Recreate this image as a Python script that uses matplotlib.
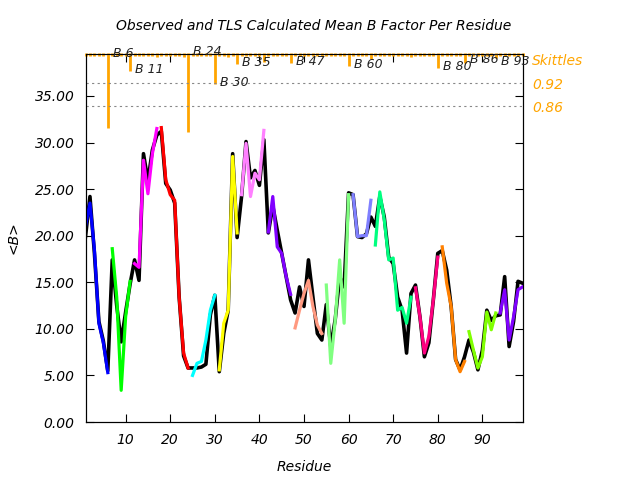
import matplotlib.pyplot as plt
import numpy as np

plt.rcParams['font.family'] = 'DejaVu Sans'
plt.rcParams['font.style'] = 'italic'

residues = np.arange(1, 100)

# observed mean B per residue (black)
observed = [
    19.9, 24.2, 18.1, 10.8, 8.7, 5.5, 17.4, 12.5, 8.6, 11.8,
    14.8, 17.4, 15.2, 28.8, 25.9, 29.2, 30.8, 31.2, 25.6, 24.9,
    23.5, 13.4, 7.1, 5.8, 5.8, 5.8, 5.9, 6.2, 11.5, 13.6,
    5.4, 9.5, 12.0, 28.8, 19.8, 24.2, 30.1, 26.2, 27.0, 25.4,
    30.3, 20.3, 23.2, 20.6, 18.1, 15.6, 13.1, 11.7, 14.5, 12.4,
    17.4, 13.4, 9.5, 8.8, 12.6, 8.1, 11.0, 15.6, 14.5, 24.6,
    24.4, 19.9, 19.8, 20.2, 22.0, 21.0, 24.2, 22.0, 17.7, 17.0,
    13.4, 12.0, 7.4, 13.8, 14.7, 11.3, 7.0, 8.5, 13.1, 18.1,
    18.4, 16.3, 12.4, 6.7, 5.6, 7.0, 8.8, 7.5, 5.6, 7.7,
    12.0, 10.9, 11.4, 11.5, 15.6, 8.1, 10.8, 15.1, 14.9,
]

# TLS calculated mean B per residue (coloured by segment)
calculated = [
    21.0, 23.5, 18.5, 10.6, 8.5, 5.3, 18.6, 13.4, 3.4, 11.3,
    15.1, 17.0, 16.6, 28.1, 24.5, 28.8, 31.5, 31.6, 26.0, 24.4,
    23.8, 13.4, 7.4, 5.8, 5.0, 6.3, 6.5, 8.8, 12.0, 13.6,
    5.6, 10.6, 12.0, 28.5, 20.3, 24.4, 29.9, 24.2, 26.7, 26.0,
    31.3, 20.4, 24.2, 18.8, 18.1, 15.6, 13.7, 10.1, 12.0, 13.8,
    15.2, 12.4, 10.4, 9.5, 14.7, 6.3, 10.9, 17.4, 10.6, 24.4,
    24.4, 19.9, 20.0, 20.0, 23.8, 19.0, 24.7, 21.7, 17.4, 17.6,
    12.0, 12.3, 10.6, 13.4, 14.4, 11.3, 7.4, 9.2, 13.1, 17.7,
    18.8, 14.9, 12.4, 6.7, 5.4, 6.5, 9.7, 7.7, 5.8, 7.0,
    11.8, 9.9, 11.7, 11.7, 14.2, 8.8, 11.3, 14.2, 14.5,
]

segment_starts = [1, 7, 12, 18, 25, 31, 36, 42, 48, 55, 61, 66, 75, 81, 87, 94]
segment_ends = [6, 11, 17, 24, 30, 35, 41, 47, 54, 60, 65, 74, 80, 86, 93, 99]
segment_colors = ['#0000ff', '#00ff00', '#ff00ff', '#ff0000', '#00ffff',
                  '#ffff00', '#ff80ff', '#8000ff', '#ff9980', '#80ff80',
                  '#8080ff', '#00ff80', '#ff0080', '#ff8000', '#80ff00',
                  '#8000ff']

# skittles values on the right axis (top = 1)
skittles = [
    0.992, 0.992, 0.992, 0.992, 0.992, 0.803, 0.992, 0.992, 0.992, 0.992,
    0.953, 0.992, 0.992, 0.992, 0.992, 0.992, 0.988, 0.992, 0.992, 0.992,
    0.992, 0.992, 0.988, 0.794, 0.992, 0.992, 0.992, 0.992, 0.992, 0.917,
    0.992, 0.992, 0.988, 0.992, 0.970, 0.992, 0.992, 0.992, 0.992, 0.992,
    0.976, 0.992, 0.992, 0.992, 0.992, 0.992, 0.973, 0.992, 0.992, 0.992,
    0.992, 0.992, 0.992, 0.992, 0.992, 0.992, 0.992, 0.992, 0.992, 0.965,
    0.992, 0.992, 0.992, 0.992, 0.983, 0.992, 0.992, 0.992, 0.992, 0.992,
    0.992, 0.992, 0.992, 0.988, 0.992, 0.992, 0.992, 0.992, 0.992, 0.961,
    0.992, 0.992, 0.992, 0.992, 0.992, 0.973, 0.992, 0.992, 0.992, 0.992,
    0.992, 0.992, 0.986, 0.992, 0.992, 0.992, 0.992, 0.992, 0.992,
]
break_residues = [6, 11, 24, 30, 35, 47, 60, 80, 86, 93]
break_label_y = [0.999, 0.957, 1.002, 0.921, 0.974, 0.976, 0.968, 0.965, 0.981, 0.978]
skittle_levels = [0.92, 0.86]

orange = '#ffa500'

fig = plt.figure(figsize=(6.4, 4.8), dpi=100)
ax = fig.add_axes([85.5 / 640, 58 / 480, 437 / 640, 368 / 480])

ax.plot(residues, observed, color='black', lw=2.6, zorder=2)
for s, e, c in zip(segment_starts, segment_ends, segment_colors):
    ax.plot(residues[s - 1:e], calculated[s - 1:e], color=c, lw=2.3, zorder=3)

ax.set_xlim(1, 99)
ax.set_ylim(0, 39.5)
ax.set_xticks(range(10, 100, 10))
ax.set_yticks(np.arange(0, 36, 5))
ax.set_yticklabels(['%.2f' % v for v in np.arange(0, 36, 5)])
ax.tick_params(direction='in', length=6, top=True, labelsize=10)
ax.tick_params(axis='x', pad=8)
ax.tick_params(axis='y', pad=8)
ax.set_xlabel('Residue', fontsize=10, labelpad=9)
ax.set_ylabel('<B>', fontsize=10, labelpad=10)

ax2 = ax.twinx()
ax2.set_ylim(0.0365, 0.9965)
ax2.vlines(residues, skittles, 0.999, color=orange, lw=2.0, clip_on=False)
for lvl in skittle_levels:
    ax2.axhline(lvl, color='#888888', lw=0.8, ls=(0, (2, 3)))
for r, ly in zip(break_residues, break_label_y):
    ax2.text(r + 1.2, ly, 'B %d' % r, fontsize=9, va='center', ha='left', color='#222222')
ax2.set_yticks(skittle_levels)
ax2.set_yticklabels(['%.2f' % v for v in skittle_levels])
ax2.tick_params(axis='y', length=0, pad=7, labelcolor=orange, labelsize=10)
ax2.text(1.022, 0.978, 'Skittles', transform=ax2.get_yaxis_transform(),
         color=orange, fontsize=10, va='center', ha='left')
ax.tick_params(axis='y', right=True)

fig.text(0.49, 0.946, 'Observed and TLS Calculated Mean B Factor Per Residue',
         ha='center', va='center', fontsize=10)

fig.savefig('out.png', dpi=100)
